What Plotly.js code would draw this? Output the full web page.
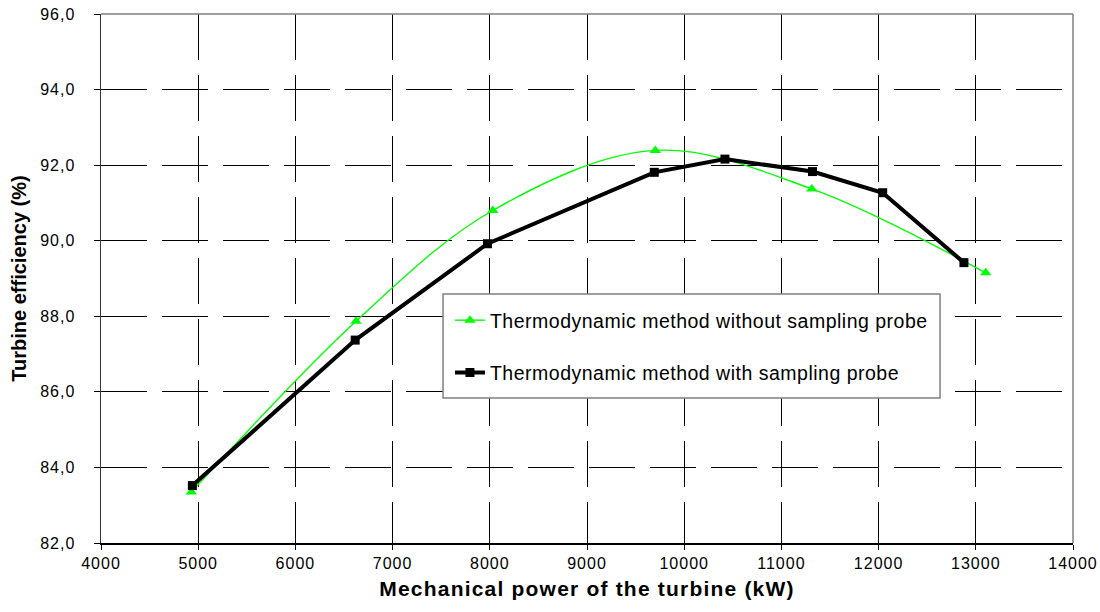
<!DOCTYPE html>
<html>
<head>
<meta charset="utf-8">
<script src="https://cdn.plot.ly/plotly-3.0.1.min.js"></script>
<style>
html,body{margin:0;padding:0;background:#fff;}
#chart{width:1100px;height:612px;}
text.legendtext{letter-spacing:0.5px;}
text.xtitle{letter-spacing:1.2px;}
.xtick text,.ytick text{letter-spacing:1px;}
</style>
</head>
<body>
<div id="chart"></div>
<script>
// Data
const withoutProbeX = [4930, 6624, 8030, 9703, 11313, 13102];
const withoutProbeY = [83.35, 87.87, 90.80, 92.39, 91.37, 89.15];
const withProbeX = [4940, 6615, 7976, 9692, 10419, 11320, 12042, 12878];
const withProbeY = [83.52, 87.37, 89.92, 91.81, 92.16, 91.83, 91.27, 89.42];
const seriesNames = ["Thermodynamic method without sampling probe", "Thermodynamic method with sampling probe"];
const xTitle = "Mechanical power of the turbine (kW)";
const yTitle = "Turbine efficiency (%)";

const traces = [
  {
    x: withoutProbeX, y: withoutProbeY, name: seriesNames[0],
    type: "scatter", mode: "lines+markers", legendgroup: "a",
    line: {color: "#00ff00", width: 1.4, shape: "spline", smoothing: 1},
    marker: {symbol: "triangle-up", size: 10, color: "#00ff00"}
  },
  {
    x: withProbeX, y: withProbeY, name: seriesNames[1],
    type: "scatter", mode: "lines+markers", legendgroup: "b",
    line: {color: "#000000", width: 4},
    marker: {symbol: "square", size: 9, color: "#000000"}
  }
];

const layout = {
  width: 1100, height: 612,
  paper_bgcolor: "#fff", plot_bgcolor: "#fff",
  margin: {l: 101, r: 27, t: 14, b: 69},
  separators: ",.",
  font: {family: "Liberation Sans, Arial, sans-serif", color: "#000", size: 16},
  showlegend: true,
  legend: {
    x: 0.359, y: 0.4575, xanchor: "left", yanchor: "top",
    bgcolor: "rgba(0,0,0,0)", borderwidth: 0,
    font: {size: 19.5, family: "Liberation Sans, Arial, sans-serif"},
    traceorder: "grouped", tracegroupgap: 24
  },
  xaxis: {
    range: [4000, 14000], dtick: 1000, tick0: 4000, tickformat: "d",
    showgrid: true, gridcolor: "#000", gridwidth: 1, griddash: "46px,15px",
    showline: true, linecolor: "#000", linewidth: 1.5,
    ticks: "outside", ticklen: 5, tickcolor: "#000",
    zeroline: false,
    tickfont: {size: 16},
    title: {text: "<b>" + xTitle + "</b>", font: {size: 21}, standoff: 10}
  },
  yaxis: {
    range: [82, 96], dtick: 2, tick0: 82, tickformat: ".1f",
    showgrid: true, gridcolor: "#000", gridwidth: 1, griddash: "46px,15px",
    showline: true, linecolor: "#333", linewidth: 1.5,
    ticks: "outside", ticklen: 6, tickcolor: "#000", ticklabelstandoff: 15,
    zeroline: false,
    tickfont: {size: 16},
    title: {text: "<b>" + yTitle + "</b>", font: {size: 20}, standoff: 8}
  },
  shapes: [
    {type: "line", xref: "paper", yref: "paper", x0: 0, x1: 1, y0: 1, y1: 1, line: {color: "#808080", width: 1.5}},
    {type: "line", xref: "paper", yref: "paper", x0: 1, x1: 1, y0: 0, y1: 1, line: {color: "#808080", width: 1.5}},
    {type: "rect", xref: "paper", yref: "paper", layer: "above",
     x0: 0.3519, x1: 0.8632, y0: 0.2741, y1: 0.4707,
     fillcolor: "#ffffff", line: {color: "#808080", width: 1.5}}
  ]
};

Plotly.newPlot("chart", traces, layout, {displayModeBar: false, staticPlot: true});
</script>
</body>
</html>
